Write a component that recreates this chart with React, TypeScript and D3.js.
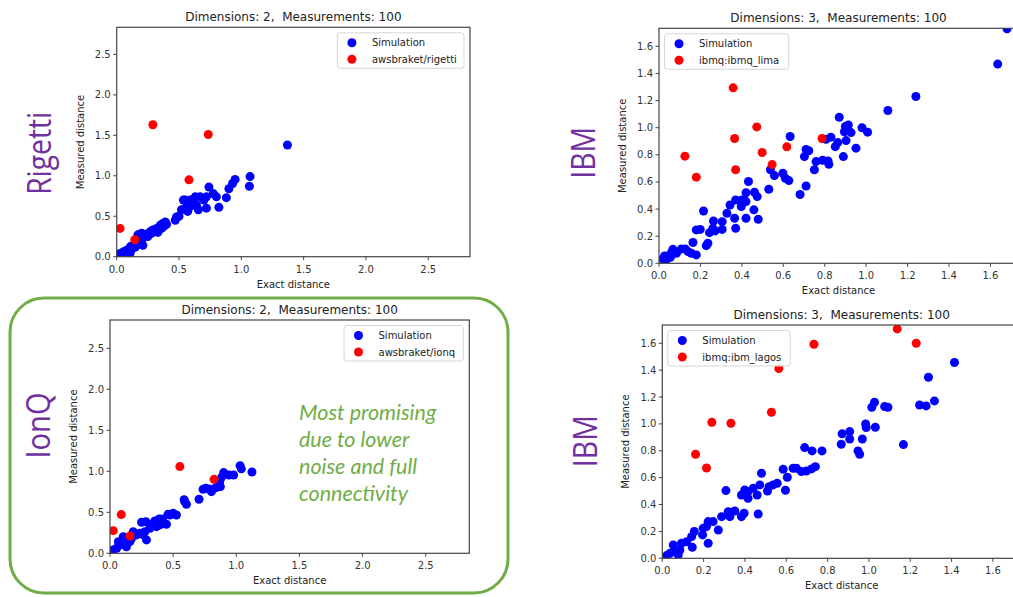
import React from "react";
import * as d3 from "d3";

type Pt = [number, number];

// tick labels
const ticksWide = [0, 0.5, 1.0, 1.5, 2.0, 2.5];
const ticksNarrow = [0, 0.2, 0.4, 0.6, 0.8, 1.0, 1.2, 1.4, 1.6];

// Rigetti (2 dims)
const rigettiSim: Pt[] = [
  [0.013, 0.02], [0.027, 0.04], [0.04, 0.03], [0.053, 0.06], [0.06, 0.02], [0.08, 0.08],
  [0.09, 0.05], [0.107, 0.04], [0.11, 0.125], [0.12, 0.09], [0.135, 0.145], [0.15, 0.12],
  [0.16, 0.185], [0.17, 0.27], [0.18, 0.22], [0.2, 0.29], [0.2, 0.165], [0.21, 0.23],
  [0.21, 0.14], [0.22, 0.26], [0.24, 0.28], [0.25, 0.25], [0.27, 0.31], [0.28, 0.29],
  [0.29, 0.33], [0.31, 0.32], [0.32, 0.35], [0.33, 0.3], [0.35, 0.39], [0.36, 0.35],
  [0.37, 0.41], [0.38, 0.38], [0.39, 0.43], [0.4, 0.4], [0.47, 0.45], [0.48, 0.49],
  [0.5, 0.5], [0.52, 0.58], [0.535, 0.7], [0.55, 0.6], [0.55, 0.7], [0.57, 0.56],
  [0.59, 0.62], [0.59, 0.7], [0.6, 0.66], [0.63, 0.74], [0.64, 0.64], [0.655, 0.58],
  [0.67, 0.74], [0.7, 0.7], [0.72, 0.6], [0.72, 0.74], [0.74, 0.86], [0.775, 0.78],
  [0.8, 0.74], [0.82, 0.61], [0.88, 0.73], [0.9, 0.84], [0.93, 0.905], [0.95, 0.955],
  [1.065, 0.87], [1.07, 0.99], [1.37, 1.38],
];
const rigettiHw: Pt[] = [
  [0.027, 0.35], [0.145, 0.21], [0.29, 1.63], [0.58, 0.95], [0.735, 1.51],
];

// IBM lima (3 dims)
const limaSim: Pt[] = [
  [0.019, 0.032], [0.027, 0.054], [0.035, 0.025], [0.055, 0.044], [0.058, 0.074], [0.067, 0.103],
  [0.084, 0.074], [0.108, 0.106], [0.127, 0.106], [0.14, 0.086], [0.156, 0.074], [0.164, 0.153],
  [0.18, 0.062], [0.18, 0.246], [0.199, 0.25], [0.215, 0.386], [0.228, 0.13], [0.236, 0.148],
  [0.244, 0.226], [0.26, 0.258], [0.263, 0.312], [0.271, 0.239], [0.305, 0.307], [0.305, 0.25],
  [0.328, 0.369], [0.343, 0.43], [0.365, 0.332], [0.37, 0.258], [0.37, 0.467], [0.397, 0.418],
  [0.4, 0.467], [0.42, 0.52], [0.42, 0.455], [0.42, 0.332], [0.432, 0.603], [0.458, 0.394],
  [0.461, 0.524], [0.474, 0.492], [0.479, 0.325], [0.53, 0.546], [0.538, 0.69], [0.557, 0.647],
  [0.598, 0.664], [0.61, 0.627], [0.627, 0.61], [0.633, 0.935], [0.681, 0.507], [0.702, 0.787],
  [0.71, 0.57], [0.71, 0.84], [0.723, 0.83], [0.75, 0.69], [0.758, 0.75], [0.79, 0.76],
  [0.806, 0.915], [0.816, 0.755], [0.82, 0.73], [0.83, 0.93], [0.851, 0.86], [0.863, 0.89],
  [0.87, 1.077], [0.89, 0.787], [0.895, 0.97], [0.9, 1.009], [0.903, 0.905], [0.914, 1.02],
  [0.927, 0.964], [0.951, 0.849], [0.98, 1.0], [1.007, 0.967], [1.105, 1.127], [1.24, 1.23],
  [1.635, 1.469], [1.68, 1.73],
];
const limaHw: Pt[] = [
  [0.125, 0.79], [0.18, 0.635], [0.358, 1.294], [0.365, 0.92], [0.37, 0.69],
  [0.472, 1.006], [0.498, 0.817], [0.546, 0.728], [0.617, 0.859], [0.787, 0.92],
];

// IonQ (2 dims)
const ionqSim: Pt[] = [
  [0.013, 0.02], [0.026, 0.041], [0.053, 0.061], [0.066, 0.142], [0.079, 0.102], [0.105, 0.203],
  [0.118, 0.122], [0.13, 0.08], [0.158, 0.142], [0.171, 0.183], [0.184, 0.264], [0.21, 0.224],
  [0.237, 0.244], [0.25, 0.378], [0.263, 0.224], [0.276, 0.264], [0.284, 0.386], [0.289, 0.163],
  [0.316, 0.305], [0.329, 0.354], [0.342, 0.346], [0.355, 0.394], [0.368, 0.325], [0.389, 0.419],
  [0.395, 0.346], [0.416, 0.419], [0.447, 0.354], [0.46, 0.476], [0.474, 0.467], [0.5, 0.488],
  [0.526, 0.467], [0.587, 0.654], [0.592, 0.63], [0.605, 0.598], [0.705, 0.659], [0.737, 0.78],
  [0.758, 0.793], [0.784, 0.785], [0.803, 0.752], [0.837, 0.8], [0.868, 0.874], [0.874, 0.813],
  [0.882, 0.923], [0.9, 0.984], [0.942, 0.955], [0.979, 0.955], [1.03, 1.069], [1.04, 1.03],
  [1.124, 0.992],
];
const ionqHw: Pt[] = [
  [0.026, 0.276], [0.089, 0.472], [0.158, 0.211], [0.553, 1.057], [0.824, 0.902],
];

// IBM lagos (3 dims)
const lagosSim: Pt[] = [
  [0.021, 0.02], [0.037, 0.037], [0.053, 0.099], [0.061, 0.05], [0.077, 0.025], [0.085, 0.062],
  [0.093, 0.112], [0.118, 0.124], [0.142, 0.161], [0.145, 0.082], [0.155, 0.199], [0.195, 0.174],
  [0.198, 0.223], [0.214, 0.236], [0.222, 0.273], [0.222, 0.112], [0.246, 0.273], [0.271, 0.211],
  [0.287, 0.31], [0.308, 0.504], [0.319, 0.347], [0.327, 0.31], [0.351, 0.352], [0.383, 0.31],
  [0.383, 0.471], [0.396, 0.335], [0.399, 0.509], [0.415, 0.496], [0.415, 0.447], [0.44, 0.521],
  [0.459, 0.471], [0.464, 0.33], [0.472, 0.546], [0.48, 0.633], [0.509, 0.501], [0.517, 0.533],
  [0.536, 0.546], [0.556, 0.558], [0.585, 0.663], [0.596, 0.506], [0.605, 0.603], [0.633, 0.67],
  [0.649, 0.67], [0.673, 0.645], [0.689, 0.824], [0.697, 0.65], [0.722, 0.665], [0.725, 0.799],
  [0.741, 0.682], [0.773, 0.799], [0.866, 0.849], [0.87, 0.926], [0.907, 0.888], [0.907, 0.943],
  [0.947, 0.799], [0.955, 0.774], [0.968, 0.888], [0.984, 1.0], [0.987, 0.973], [1.014, 1.124],
  [1.027, 1.161], [1.031, 0.975], [1.076, 1.129], [1.092, 1.124], [1.167, 0.846], [1.245, 1.141],
  [1.277, 1.134], [1.288, 1.347], [1.317, 1.171], [1.414, 1.457],
];
const lagosHw: Pt[] = [
  [0.161, 0.774], [0.214, 0.672], [0.24, 1.012], [0.332, 1.005], [0.528, 1.087],
  [0.564, 1.412], [0.734, 1.593], [1.137, 1.707], [1.229, 1.6],
];

const FONT = "DejaVu Sans, sans-serif";
const BLUE = "#0000ff";
const RED = "#ff0000";
const PURPLE = "#7030a0";
const GREEN = "#70ad47";
const AXIS = "#444";

type PanelProps = {
  id: string;
  left: number;
  top: number;
  right: number;
  bottom: number;
  max: number;
  ticks: number[];
  title: string;
  sim: Pt[];
  hw: Pt[];
  hwLabel: string;
  legendSide: "left" | "right";
  legendWidth: number;
};

const fmt = d3.format(".1f");

function Panel(p: PanelProps) {
  const x = d3.scaleLinear().domain([0, p.max]).range([p.left, p.right]);
  const y = d3.scaleLinear().domain([0, p.max]).range([p.bottom, p.top]);
  const cx = (p.left + p.right) / 2;
  const cy = (p.top + p.bottom) / 2;
  const lx = p.legendSide === "right" ? p.right - 6 - p.legendWidth : p.left + 5.5;
  const ly = p.top + 5.5;
  const entries: [string, string][] = [["Simulation", BLUE], [p.hwLabel, RED]];
  return (
    <g fontFamily={FONT}>
      <defs>
        <clipPath id={`clip-${p.id}`}>
          <rect x={p.left} y={p.top} width={p.right - p.left} height={p.bottom - p.top} />
        </clipPath>
      </defs>
      <rect x={p.left} y={p.top} width={p.right - p.left} height={p.bottom - p.top} fill="#fff" />
      <g clipPath={`url(#clip-${p.id})`}>
        {p.sim.map((d, i) => (
          <circle key={`s${i}`} cx={x(d[0])} cy={y(d[1])} r={4.5} fill={BLUE} />
        ))}
        {p.hw.map((d, i) => (
          <circle key={`h${i}`} cx={x(d[0])} cy={y(d[1])} r={4.5} fill={RED} />
        ))}
      </g>
      <rect x={p.left} y={p.top} width={p.right - p.left} height={p.bottom - p.top} fill="none" stroke={AXIS} strokeWidth={1.2} />
      {p.ticks.map((t) => (
        <g key={`x${t}`}>
          <line x1={x(t)} x2={x(t)} y1={p.bottom} y2={p.bottom + 3.5} stroke={AXIS} />
          <text x={x(t)} y={p.bottom + 16} textAnchor="middle" fontSize={10} fill="#333">{fmt(t)}</text>
        </g>
      ))}
      {p.ticks.map((t) => (
        <g key={`y${t}`}>
          <line x1={p.left - 3.5} x2={p.left} y1={y(t)} y2={y(t)} stroke={AXIS} />
          <text x={p.left - 6} y={y(t)} dy="0.35em" textAnchor="end" fontSize={10} fill="#333">{fmt(t)}</text>
        </g>
      ))}
      <text x={cx} y={p.top - 6} textAnchor="middle" fontSize={12} fill="#222" style={{ whiteSpace: "pre" }}>{p.title}</text>
      <text x={cx} y={p.bottom + 31} textAnchor="middle" fontSize={10} fill="#222">Exact distance</text>
      <text transform={`translate(${p.left - 33},${cy}) rotate(-90)`} textAnchor="middle" fontSize={10} fill="#222">Measured distance</text>
      <rect x={lx} y={ly} width={p.legendWidth} height={35.5} rx={3} fill="#fff" fillOpacity={0.85} stroke="#d6d6d6" />
      {entries.map(([label, color], i) => (
        <g key={label}>
          <circle cx={lx + 14.5} cy={ly + 10 + i * 16.5} r={4.5} fill={color} />
          <text x={lx + 34.5} y={ly + 10 + i * 16.5} dy="0.35em" fontSize={10} fill="#222">{label}</text>
        </g>
      ))}
    </g>
  );
}

function SideLabel({ text, cx, cy, len }: { text: string; cx: number; cy: number; len: number }) {
  return (
    <text
      transform={`translate(${cx + 12},${cy}) rotate(-90)`}
      textAnchor="middle"
      fontFamily="Open Sans, sans-serif"
      fontSize={33}
      fill={PURPLE}
      textLength={len}
      lengthAdjust="spacingAndGlyphs"
    >
      {text}
    </text>
  );
}

const noteLines = ["Most promising", "due to lower", "noise and full", "connectivity"];

export default function App() {
  return (
    <svg width={1013} height={597} style={{ position: "absolute", left: 0, top: 0, background: "#fff" }}>
      <rect x={10} y={298} width={498} height={295} rx={34} fill="none" stroke={GREEN} strokeWidth={3} />
      <Panel id="tl" left={116.7} top={27.3} right={470} bottom={256.7} max={2.835} ticks={ticksWide}
        title="Dimensions: 2,  Measurements: 100" sim={rigettiSim} hw={rigettiHw}
        hwLabel="awsbraket/rigetti" legendSide="right" legendWidth={126.6} />
      <Panel id="tr" left={659} top={28.3} right={1018} bottom={263.3} max={1.733} ticks={ticksNarrow}
        title="Dimensions: 3,  Measurements: 100" sim={limaSim} hw={limaHw}
        hwLabel="ibmq:ibmq_lima" legendSide="left" legendWidth={124.3} />
      <Panel id="bl" left={110} top={320} right={469.3} bottom={553.3} max={2.845} ticks={ticksWide}
        title="Dimensions: 2,  Measurements: 100" sim={ionqSim} hw={ionqHw}
        hwLabel="awsbraket/ionq" legendSide="right" legendWidth={119.3} />
      <Panel id="br" left={662.3} top={325} right={1021} bottom={558.3} max={1.736} ticks={ticksNarrow}
        title="Dimensions: 3,  Measurements: 100" sim={lagosSim} hw={lagosHw}
        hwLabel="ibmq:ibm_lagos" legendSide="left" legendWidth={122.4} />
      <SideLabel text="Rigetti" cx={39} cy={153.3} len={83} />
      <SideLabel text="IBM" cx={583.3} cy={152.8} len={52} />
      <SideLabel text="IonQ" cx={37.5} cy={425.5} len={66} />
      <SideLabel text="IBM" cx={585} cy={441.2} len={52} />
      {noteLines.map((t, i) => (
        <text key={t} x={299} y={420 + i * 27} fontFamily="Lato, sans-serif" fontStyle="italic"
          fontSize={21.5} fill={GREEN}>{t}</text>
      ))}
    </svg>
  );
}
